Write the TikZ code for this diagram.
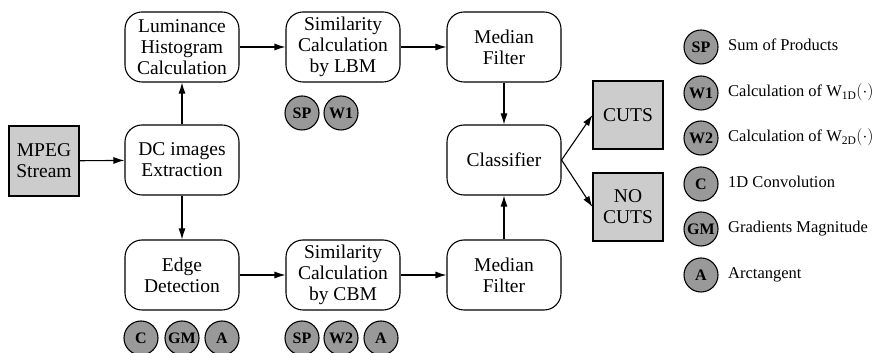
\documentclass[tikz,border=0pt]{standalone}
\usepackage{fontspec}
\setmainfont{Liberation Serif}
\usepackage{tikz}
\usetikzlibrary{arrows.meta, shapes, positioning}
\usepackage{xcolor}
\definecolor{boxgray}{RGB}{204,204,204}
\definecolor{opgray}{RGB}{153,153,153}
\tikzset{roundwhitenode/.style={rectangle, rounded corners=17pt, fill=white, draw=black, line width=1.1pt, minimum width=114pt, minimum height=70pt, align=center, inner sep=1pt, font=\fontsize{19.5}{21}\selectfont},
squaregraynode/.style={rectangle, fill=boxgray, draw=black, line width=1.1pt, minimum width=70pt, minimum height=68pt, align=center, inner sep=1pt, font=\fontsize{19.5}{21}\selectfont}}
\tikzset{opgraynode/.style={circle, fill=opgray, draw=black, line width=1.1pt, minimum size=34pt, inner sep=0pt, font=\fontsize{16}{16}\selectfont\bfseries},
legendtext/.style={anchor=west, inner sep=0pt, font=\fontsize{16.5}{18}\selectfont},
flowarrow/.style={-{Latex[length=11pt, width=7pt]}, line width=1.1pt}}

\begin{document}
\begin{tikzpicture}
        \useasboundingbox (0pt, 0pt) rectangle (873pt, 353pt);
        % Blocks
        \node[squaregraynode, minimum height=70pt] (mpegnode) at (44pt, 192pt) {MPEG\\Stream};
        \node[roundwhitenode] (dcnode) at (182pt, 193pt) {DC images\\Extraction};
        \node[roundwhitenode] (lumnode) at (182pt, 306pt) {Luminance\\Histogram\\Calculation};
        \node[roundwhitenode] (lbmnode) at (343pt, 306pt) {Similarity\\Calculation\\by LBM};
        \node[roundwhitenode] (medtopnode) at (504pt, 306pt) {Median\\Filter};
        \node[roundwhitenode] (classnode) at (504pt, 193pt) {Classifier};
        \node[roundwhitenode] (edgenode) at (182pt, 78pt) {Edge\\Detection};
        \node[roundwhitenode] (cbmnode) at (343pt, 78pt) {Similarity\\Calculation\\by CBM};
        \node[roundwhitenode] (medbotnode) at (504pt, 78pt) {Median\\Filter};
        \node[squaregraynode] (cutsnode) at (628pt, 238pt) {CUTS};
        \node[squaregraynode] (nocutsnode) at (628pt, 146pt) {NO\\CUTS};
        % Arrows
        \draw[flowarrow] (mpegnode) -- (dcnode);
        \draw[flowarrow] (dcnode) -- (lumnode);
        \draw[flowarrow] (dcnode) -- (edgenode);
        \draw[flowarrow] (lumnode) -- (lbmnode);
        \draw[flowarrow] (lbmnode) -- (medtopnode);
        \draw[flowarrow] (medtopnode) -- (classnode);
        \draw[flowarrow] (edgenode) -- (cbmnode);
        \draw[flowarrow] (cbmnode) -- (medbotnode);
        \draw[flowarrow] (medbotnode) -- (classnode);
        \draw[flowarrow] (classnode.east) -- (cutsnode.west);
        \draw[flowarrow] (classnode.east) -- (nocutsnode.west);
        % Operations
        \node[opgraynode] (lbmsp) at (302pt, 240pt) {SP};
        \node[opgraynode] (lbmwone) at (341pt, 240pt) {W1};
        \node[opgraynode] (edgec) at (141pt, 15pt) {C};
        \node[opgraynode] (edgegm) at (182pt, 15pt) {GM};
        \node[opgraynode] (edgea) at (222pt, 15pt) {A};
        \node[opgraynode] (cbmsp) at (302pt, 15pt) {SP};
        \node[opgraynode] (cbmwtwo) at (341pt, 15pt) {W2};
        \node[opgraynode] (cbma) at (381pt, 15pt) {A};
        % Legend
        \foreach \y/\op/\optext [count=\i] in {
            306pt/SP/Sum of Products,
            260pt/W1/{Calculation of W$_{\mathrm{1D}}(\cdot)$},
            215pt/W2/{Calculation of W$_{\mathrm{2D}}(\cdot)$},
            169pt/C/1D Convolution,
            124pt/GM/Gradients Magnitude,
            78pt/A/Arctangent} {
            \node[opgraynode] (legop\i) at (701pt, \y) {\op};
            \node[legendtext] (legtext\i) at (728pt, \y) {\optext\strut};
        }
    \end{tikzpicture}
\end{document}
